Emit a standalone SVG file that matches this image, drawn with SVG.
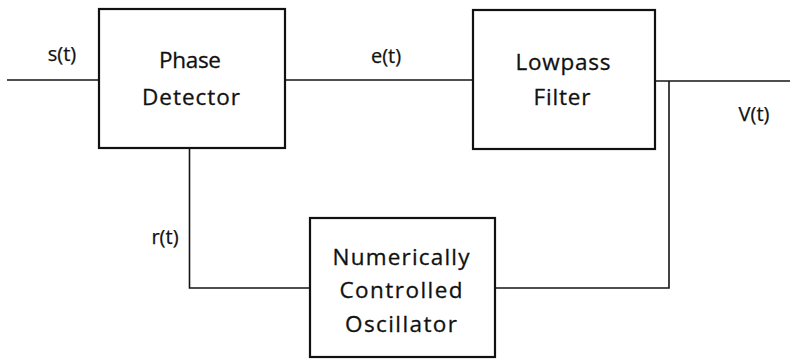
<svg xmlns="http://www.w3.org/2000/svg" width="790" height="359" viewBox="0 0 790 359">
  <style>
    .box { fill: #ffffff; stroke: #111111; stroke-width: 2.2; }
    .wire { fill: none; stroke: #141414; stroke-width: 1.6; }
    .label { font-family: "Open Sans", "Liberation Sans", Arial, sans-serif; font-size: 22.5px; fill: #111111; stroke: #111111; stroke-width: 0.3; text-anchor: middle; }
    .sig { font-family: "Open Sans", "Liberation Sans", Arial, sans-serif; font-size: 20px; fill: #111111; stroke: #111111; stroke-width: 0.25; text-anchor: middle; }
  </style>
  <rect width="790" height="359" fill="#ffffff"/>

  <!-- signal paths of the loop -->
  <g id="connectors">
    <path class="wire" d="M7 80 H99"/>
    <path class="wire" d="M285 80 H473"/>
    <path class="wire" d="M655 81 H790"/>
    <path class="wire" d="M669 81 V288 H495"/>
    <path class="wire" d="M310 288 H189.5 V148"/>
  </g>

  <g id="phase-detector">
    <rect class="box" x="99" y="9" width="186" height="139"/>
    <text class="label" x="190" y="68" textLength="62" lengthAdjust="spacing">Phase</text>
    <text class="label" x="191" y="105" textLength="98" lengthAdjust="spacing">Detector</text>
  </g>

  <g id="lowpass-filter">
    <rect class="box" x="473" y="10" width="182" height="139"/>
    <text class="label" x="563" y="70" textLength="95" lengthAdjust="spacing">Lowpass</text>
    <text class="label" x="562" y="105" textLength="57" lengthAdjust="spacing">Filter</text>
  </g>

  <g id="nco">
    <rect class="box" x="310" y="218" width="185" height="139"/>
    <text class="label" x="401" y="265" textLength="137" lengthAdjust="spacing">Numerically</text>
    <text class="label" x="401" y="298" textLength="123" lengthAdjust="spacing">Controlled</text>
    <text class="label" x="401" y="332" textLength="112" lengthAdjust="spacing">Oscillator</text>
  </g>

  <!-- signal names -->
  <g id="signal-labels">
    <text class="sig" x="62" y="61">s(t)</text>
    <text class="sig" x="386" y="63">e(t)</text>
    <text class="sig" x="754" y="121">V(t)</text>
    <text class="sig" x="165" y="244">r(t)</text>
  </g>
</svg>
